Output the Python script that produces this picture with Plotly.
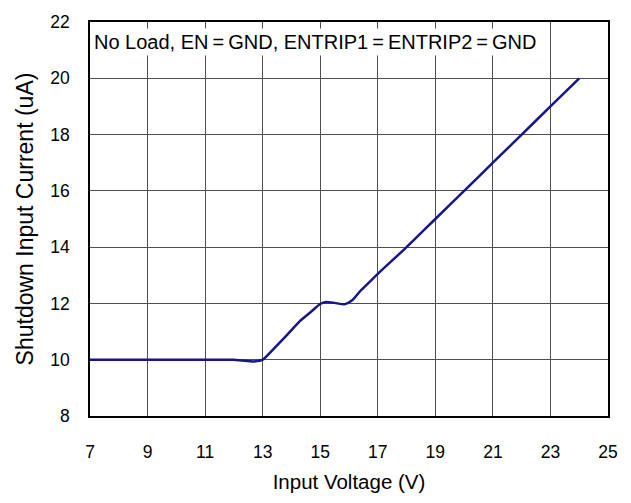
import plotly.graph_objects as go

voltage = [7, 8, 9, 10, 11, 11.5, 12.0, 12.3, 12.7, 13.0, 13.3, 13.7, 14.0, 14.3, 14.7, 15.0, 15.2, 15.5, 15.85, 16.1, 16.4, 16.7, 17.0, 18, 19, 20, 21, 22, 23, 24]
current = [10.0, 10.0, 10.0, 10.0, 10.0, 10.0, 10.0, 9.97, 9.94, 10.0, 10.3, 10.72, 11.05, 11.38, 11.72, 11.98, 12.05, 12.02, 11.97, 12.1, 12.45, 12.75, 13.05, 14.0, 15.0, 16.0, 17.0, 18.0, 19.0, 20.0]

x_ticks = [7, 9, 11, 13, 15, 17, 19, 21, 23, 25]
y_ticks = [8, 10, 12, 14, 16, 18, 20, 22]
note = "No Load, EN\u2009=\u2009GND, ENTRIP1\u2009=\u2009ENTRIP2\u2009=\u2009GND"

FONT = "Liberation Sans, Arial, sans-serif"

fig = go.Figure()
fig.add_trace(go.Scatter(x=voltage, y=current, mode="lines",
                         line=dict(color="#16168a", width=2.5, shape="spline", smoothing=0.6),
                         showlegend=False, hoverinfo="skip"))

fig.update_layout(
    width=631, height=503,
    margin=dict(l=90, r=23, t=16, b=87),
    paper_bgcolor="white", plot_bgcolor="white",
    font=dict(family=FONT, color="black", size=17),
)
fig.update_xaxes(range=[7, 25], tickvals=x_ticks, ticks="", ticklabelstandoff=19,
                 showgrid=True, gridcolor="#505050", gridwidth=1,
                 showline=True, linecolor="black", linewidth=1.5, mirror=True,
                 zeroline=False,
                 title=dict(text="Input Voltage (V)", font=dict(size=20.5), standoff=14),
                 tickfont=dict(size=17.5))
fig.update_yaxes(range=[8, 22], tickvals=y_ticks, ticks="", ticklabelstandoff=15,
                 showgrid=True, gridcolor="#505050", gridwidth=1,
                 showline=True, linecolor="black", linewidth=1.5, mirror=True,
                 zeroline=False,
                 title=dict(text="Shutdown Input Current (uA)", font=dict(size=23), standoff=10),
                 tickfont=dict(size=17.5))

fig.add_annotation(text=note, xref="paper", yref="paper", x=0.002, y=0.985,
                   xanchor="left", yanchor="top", showarrow=False,
                   bgcolor="white", font=dict(size=20, family=FONT), borderpad=2)

fig.write_html("out.html", config={"displayModeBar": False},
               post_script="document.body.style.margin='0';document.body.style.overflow='hidden';")
